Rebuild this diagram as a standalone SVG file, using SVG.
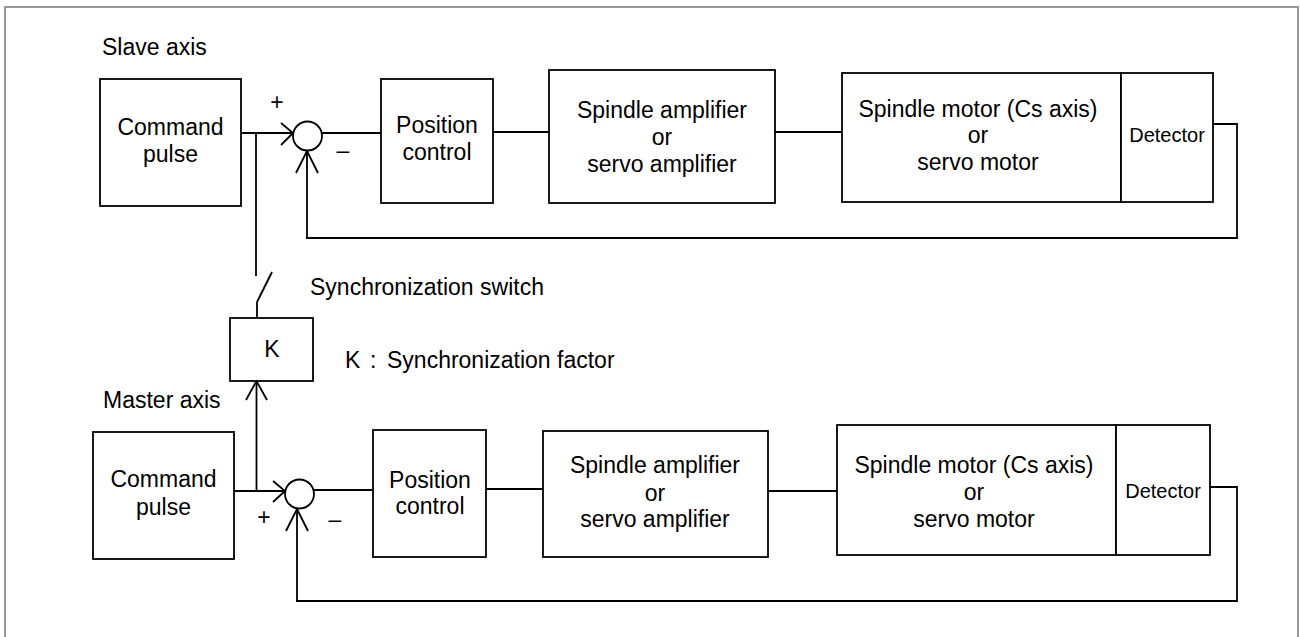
<svg xmlns="http://www.w3.org/2000/svg" width="1300" height="637" viewBox="0 0 1300 637">
<style>
.box{fill:#fff;stroke:#000;stroke-width:1.8}
.ln{fill:none;stroke:#000;stroke-width:1.8}
.t{font-family:"Liberation Sans",Arial,sans-serif;font-size:23px;fill:#000}
.c{text-anchor:middle}
.d{font-size:20px}
</style>
<rect width="1300" height="637" fill="#fff"/>
<path d="M5,637 V7 H1298 V637" fill="none" stroke="#999" stroke-width="2"/>
<text class="t" x="102" y="55">Slave axis</text>
<text class="t" x="103" y="408">Master axis</text>
<text class="t" x="310" y="295">Synchronization switch</text>
<text class="t" x="345" y="368">K<tspan x="370">:</tspan><tspan x="387">Synchronization factor</tspan></text>
<g id="connectors">
<polyline class="ln" points="241,133 293,133"/>
<polyline class="ln" points="281,123 293,133 281,145"/>
<polyline class="ln" points="256,133 256,276"/>
<polyline class="ln" points="257,302 272,272"/>
<polyline class="ln" points="257,302 257,318"/>
<polyline class="ln" points="256.5,491 256.5,381"/>
<polyline class="ln" points="246,400 256.5,381 267,400"/>
<polyline class="ln" points="307,238 307,151"/>
<polyline class="ln" points="296,173 307,151 318,173"/>
<polyline class="ln" points="1213,124 1237,124 1237,238 306,238"/>
<polyline class="ln" points="322,133 381,133"/>
<polyline class="ln" points="493,132 549,132"/>
<polyline class="ln" points="775,132 842,132"/>
<polyline class="ln" points="234,491 285,491"/>
<polyline class="ln" points="273,481 285,491 273,502"/>
<polyline class="ln" points="297,601 297,509"/>
<polyline class="ln" points="286,531 297,509 308,531"/>
<polyline class="ln" points="1210,487 1237,487 1237,601 296,601"/>
<polyline class="ln" points="314,490 373,490"/>
<polyline class="ln" points="486,489 543,489"/>
<polyline class="ln" points="768,491 837,491"/>
</g>
<g id="slave-command">
<rect class="box" x="100" y="79" width="141" height="127"/>
<text class="t c" x="170.5" y="135">Command</text>
<text class="t c" x="170.5" y="162">pulse</text>
</g>
<g id="slave-sum">
<circle class="box" cx="307.5" cy="136" r="14.5"/>
<text class="t c" x="277" y="110">+</text>
<text class="t c" x="343" y="158">–</text>
</g>
<g id="slave-position">
<rect class="box" x="381" y="79" width="112" height="124"/>
<text class="t c" x="437" y="133">Position</text>
<text class="t c" x="437" y="160">control</text>
</g>
<g id="slave-amp">
<rect class="box" x="549" y="70" width="226" height="133"/>
<text class="t c" x="662" y="118">Spindle amplifier</text>
<text class="t c" x="662" y="145">or</text>
<text class="t c" x="662" y="172">servo amplifier</text>
</g>
<g id="slave-motor">
<rect class="box" x="842" y="73" width="279" height="129"/>
<text class="t c" x="978" y="117">Spindle motor (Cs axis)</text>
<text class="t c" x="978" y="143">or</text>
<text class="t c" x="978" y="170">servo motor</text>
</g>
<g id="slave-detector">
<rect class="box" x="1121" y="73" width="92" height="129"/>
<text class="t c d" x="1167" y="142">Detector</text>
</g>
<g id="k-block">
<rect class="box" x="230" y="318" width="83" height="63"/>
<text class="t c" x="272" y="357">K</text>
</g>
<g id="master-command">
<rect class="box" x="93" y="432" width="141" height="127"/>
<text class="t c" x="163.5" y="487">Command</text>
<text class="t c" x="163.5" y="515">pulse</text>
</g>
<g id="master-sum">
<circle class="box" cx="299.5" cy="494" r="14.5"/>
<text class="t c" x="264" y="525">+</text>
<text class="t c" x="335" y="527">–</text>
</g>
<g id="master-position">
<rect class="box" x="373" y="430" width="113" height="127"/>
<text class="t c" x="430" y="488">Position</text>
<text class="t c" x="430" y="514">control</text>
</g>
<g id="master-amp">
<rect class="box" x="543" y="431" width="225" height="126"/>
<text class="t c" x="655" y="473">Spindle amplifier</text>
<text class="t c" x="655" y="501">or</text>
<text class="t c" x="655" y="527">servo amplifier</text>
</g>
<g id="master-motor">
<rect class="box" x="837" y="425" width="279" height="130"/>
<text class="t c" x="974" y="473">Spindle motor (Cs axis)</text>
<text class="t c" x="974" y="500">or</text>
<text class="t c" x="974" y="527">servo motor</text>
</g>
<g id="master-detector">
<rect class="box" x="1116" y="425" width="94" height="130"/>
<text class="t c d" x="1163" y="498">Detector</text>
</g>
</svg>
